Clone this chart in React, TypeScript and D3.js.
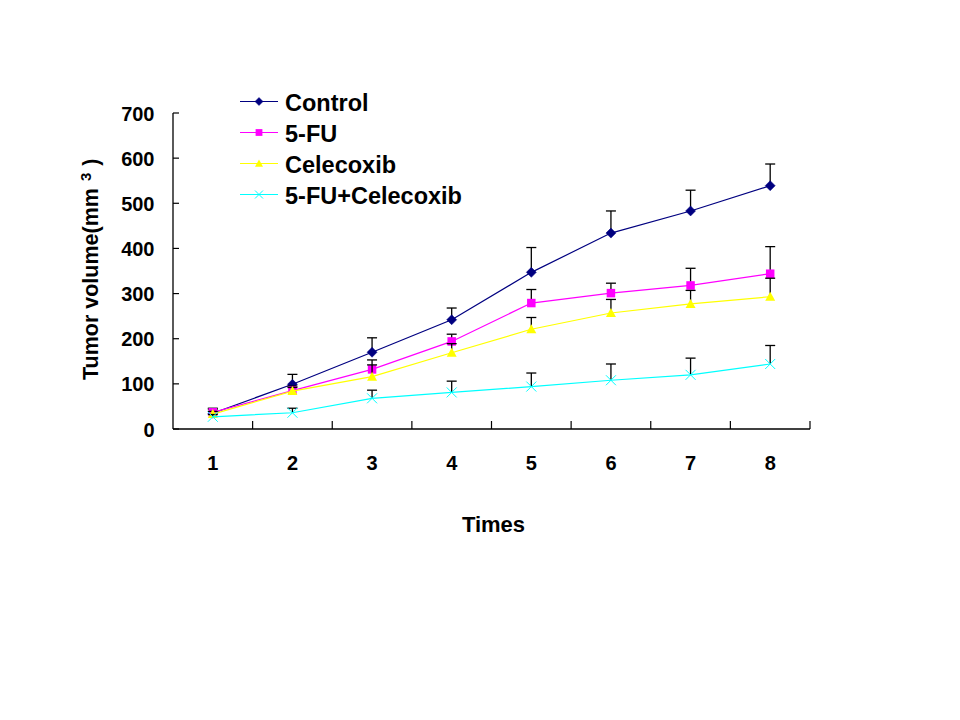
import React from "react";
import * as d3 from "d3";

const categories = ["1", "2", "3", "4", "5", "6", "7", "8"];
const yTicks = [0, 100, 200, 300, 400, 500, 600, 700];
const seriesNames = ["Control", "5-FU", "Celecoxib", "5-FU+Celecoxib"];
const controlValues = [35, 99, 170, 242, 347, 434, 483, 539];
const controlErr = [11, 22, 32, 26, 55, 49, 46, 48];
const fuValues = [37, 85, 132, 194, 279, 301, 318, 344];
const fuErr = [7, 10, 21, 16, 30, 22, 38, 60];
const celValues = [33, 84, 116, 169, 221, 257, 277, 293];
const celErr = [6, 8, 26, 20, 26, 30, 30, 41];
const comboValues = [27, 36, 68, 81, 94, 108, 120, 144];
const comboErr = [5, 10, 18, 25, 30, 36, 37, 41];
const seriesColors = ["#000080", "#FF00FF", "#FFFF00", "#00FFFF"];
const markerKinds = ["diamond", "square", "triangle", "x"];

const FONT = "'Liberation Sans', Arial, sans-serif";

function Marker({ kind, x, y, color, s }: { kind: string; x: number; y: number; color: string; s: number }) {
  if (kind === "diamond") {
    return <path d={`M${x},${y - s}L${x + s},${y}L${x},${y + s}L${x - s},${y}Z`} fill={color} stroke={color} strokeWidth={0.5} />;
  }
  if (kind === "square") {
    const h = s * 0.85;
    return <rect x={x - h} y={y - h} width={2 * h} height={2 * h} fill={color} />;
  }
  if (kind === "triangle") {
    return <path d={`M${x},${y - s}L${x + s},${y + s * 0.8}L${x - s},${y + s * 0.8}Z`} fill={color} />;
  }
  return (
    <path d={`M${x - s},${y - s}L${x + s},${y + s}M${x - s},${y + s}L${x + s},${y - s}`} stroke={color} strokeWidth={1} fill="none" />
  );
}

export default function App() {
  const x0 = 173, x1 = 810, yTop = 113, yBot = 429;
  const x = d3.scaleBand().domain(categories).range([x0, x1]);
  const y = d3.scaleLinear().domain([0, 700]).range([yBot, yTop]);
  const cx = (c: string) => (x(c) as number) + x.bandwidth() / 2;

  const values = [controlValues, fuValues, celValues, comboValues];
  const errs = [controlErr, fuErr, celErr, comboErr];

  const line = d3
    .line<number>()
    .x((_, i) => cx(categories[i]))
    .y((d) => y(d));

  return (
    <svg width={960} height={720} style={{ position: "absolute", left: 0, top: 0, background: "#fff" }} fontFamily={FONT}>
      <rect width={960} height={720} fill="#fff" />
      {/* axes */}
      <line x1={x0} x2={x0} y1={yTop} y2={yBot} stroke="#000" strokeWidth={1.3} />
      <line x1={x0} x2={x1} y1={yBot} y2={yBot} stroke="#000" strokeWidth={1.3} />
      {yTicks.map((t) => (
        <g key={t}>
          <line x1={x0} x2={x0 + 6} y1={y(t)} y2={y(t)} stroke="#000" strokeWidth={1.2} />
          <text x={154.5} y={y(t) + 7.5} textAnchor="end" fontSize={20} fontWeight="bold">
            {t}
          </text>
        </g>
      ))}
      {categories.map((c) => (
        <g key={c}>
          <line
            x1={(x(c) as number) + x.bandwidth()}
            x2={(x(c) as number) + x.bandwidth()}
            y1={yBot}
            y2={yBot - 8}
            stroke="#000"
            strokeWidth={1.2}
          />
          <text x={cx(c)} y={470} textAnchor="middle" fontSize={20} fontWeight="bold">
            {c}
          </text>
        </g>
      ))}
      <text x={493.5} y={532} textAnchor="middle" fontSize={22} fontWeight="bold">
        Times
      </text>
      <text transform="translate(98,380) rotate(-90)" fontSize={21.5} fontWeight="bold">
        Tumor volume(mm
        <tspan dx={7} dy={-7} fontSize={15}>3</tspan>
        <tspan dx={7} dy={7}>)</tspan>
      </text>

      {/* series */}
      {values.map((vals, si) => (
        <g key={seriesNames[si]}>
          {vals.map((v, i) => {
            const px = cx(categories[i]);
            const top = y(v + errs[si][i]);
            return (
              <g key={i}>
                <line x1={px} x2={px} y1={y(v)} y2={top} stroke="#000" strokeWidth={1.3} />
                <line x1={px - 5} x2={px + 5} y1={top} y2={top} stroke="#000" strokeWidth={1.3} />
              </g>
            );
          })}
          <path d={line(vals) || ""} fill="none" stroke={seriesColors[si]} strokeWidth={1.2} />
          {vals.map((v, i) => (
            <Marker key={i} kind={markerKinds[si]} x={cx(categories[i])} y={y(v)} color={seriesColors[si]} s={5} />
          ))}
        </g>
      ))}

      {/* legend */}
      {seriesNames.map((n, i) => {
        const ly = 101.5 + i * 31;
        return (
          <g key={n}>
            <line x1={240} x2={278} y1={ly} y2={ly} stroke={seriesColors[i]} strokeWidth={1.2} />
            <Marker kind={markerKinds[i]} x={259} y={ly} color={seriesColors[i]} s={4} />
            <text x={285} y={ly + 9.5} fontSize={23.5} fontWeight="bold">
              {n}
            </text>
          </g>
        );
      })}
    </svg>
  );
}
